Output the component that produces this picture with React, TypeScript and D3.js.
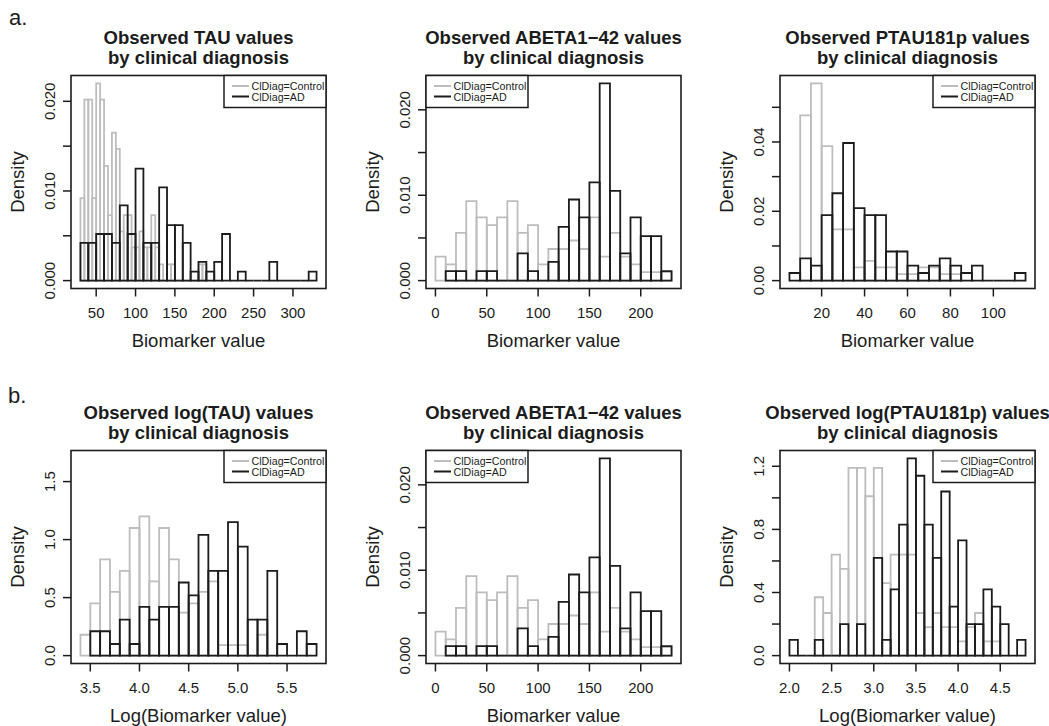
import React from "react";
import { scaleLinear } from "d3";

// densities (R hist, freq = FALSE), one value per bin
const tauControl = [0.0092, 0.0202, 0.0202, 0.0092, 0.022, 0.0202, 0.0128, 0.0073, 0.0165, 0.0147, 0.0055, 0.0073, 0.0073, 0.0037, 0.0037, 0.0055, 0.0037, 0.0037, 0.0073, 0.0037, 0.0018, 0, 0.0018, 0.0018, 0, 0, 0, 0, 0, 0, 0.0018, 0.0018];
const tauAD = [0.0042, 0.0042, 0.0052, 0.0052, 0.0042, 0.0084, 0.0052, 0.0125, 0.0042, 0.0042, 0.0104, 0.0062, 0.0062, 0.0042, 0.001, 0.0021, 0.001, 0.0021, 0.0052, 0, 0.001, 0, 0, 0, 0.0021, 0, 0, 0, 0, 0.001];

const abetaControl = [0.0028, 0.0019, 0.0056, 0.0093, 0.0074, 0.0065, 0.0074, 0.0093, 0.0056, 0.0065, 0.0019, 0.0037, 0.0037, 0.0047, 0.0037, 0.0074, 0.0028, 0.0056, 0.0028, 0.0019, 0.0010, 0.0010, 0.0010];
const abetaAD = [0.0011, 0.0011, 0, 0.0011, 0.0011, 0, 0, 0.0032, 0.0011, 0, 0.0022, 0.0063, 0.0095, 0.0074, 0.0115, 0.0231, 0.0105, 0.0032, 0.0074, 0.0052, 0.0052, 0.0011];

const ptauControl = [0.0477, 0.0569, 0.0388, 0.0148, 0.0148, 0.0038, 0.0057, 0.0038, 0.0038, 0.0019, 0.0019, 0.0038, 0.0038, 0.0019, 0.0019];
const ptauAD = [0.0022, 0.0064, 0.0043, 0.0189, 0.0252, 0.0397, 0.0209, 0.0189, 0.0189, 0.0084, 0.0084, 0.0043, 0.0022, 0.0043, 0.0064, 0.0043, 0.0022, 0.0043, 0, 0, 0, 0.0022];

const logTauControl = [0.18, 0.45, 0.83, 0.55, 0.73, 1.1, 1.2, 0.64, 1.1, 0.83, 0.37, 0.45, 0.55, 0.64, 0.09, 0.09, 0.09, 0, 0.18];
const logTauAD = [0.21, 0.21, 0.1, 0.31, 0.1, 0.42, 0.31, 0.42, 0.42, 0.63, 0.52, 1.04, 0.73, 0.73, 1.15, 0.94, 0.31, 0.31, 0.73, 0.1, 0, 0.21, 0.1];

const logPtauControl = [0.37, 0.27, 0.64, 0.55, 1.19, 1.19, 1.01, 1.19, 0.46, 0.64, 0.64, 0.64, 0.27, 0.18, 0.27, 0.18, 0.18, 0.09, 0.18, 0.27, 0.09, 0.09];
const logPtauAD = [0.1, 0, 0, 0.1, 0, 0, 0.2, 0, 0.2, 0, 0.62, 0.1, 0.42, 0.83, 1.25, 1.14, 0.83, 0.62, 1.04, 0.31, 0.73, 0.2, 0.2, 0.42, 0.31, 0.2, 0, 0.1];

// break starts and widths of each histogram
const tauBreaks = { control: [30, 5], ad: [30, 10] };
const abetaBreaks = { control: [0, 10], ad: [10, 10] };
const ptauBreaks = { control: [10, 5], ad: [5, 5] };
const logTauBreaks = { control: [3.4, 0.1], ad: [3.5, 0.1] };
const logPtauBreaks = { control: [2.3, 0.1], ad: [2.0, 0.1] };

// axis ticks and labels
const tauXTicks = [50, 100, 150, 200, 250, 300];
const abetaXTicks = [0, 50, 100, 150, 200];
const ptauXTicks = [20, 40, 60, 80, 100];
const logTauXTicks = [3.5, 4.0, 4.5, 5.0, 5.5];
const logPtauXTicks = [2.0, 2.5, 3.0, 3.5, 4.0, 4.5];

const tauYTicks = [0, 0.005, 0.01, 0.015, 0.02];
const tauYLabels = ["0.000", "", "0.010", "", "0.020"];
const ptauYTicks = [0, 0.01, 0.02, 0.03, 0.04, 0.05];
const ptauYLabels = ["0.00", "", "0.02", "", "0.04", ""];
const logTauYTicks = [0, 0.5, 1.0, 1.5];
const logTauYLabels = ["0.0", "0.5", "1.0", "1.5"];
const logPtauYTicks = [0, 0.2, 0.4, 0.6, 0.8, 1.0, 1.2];
const logPtauYLabels = ["0.0", "", "0.4", "", "0.8", "", "1.2"];

const legendLabels = ["ClDiag=Control", "ClDiag=AD"];

const width = 1049,
  height = 726,
  boxW = 255,
  boxH = 213,
  font = "'Liberation Sans', Arial, Helvetica, sans-serif",
  ink = "#1c1c1c",
  grey = "#bdbdbd";

const panels = [
  { left: 71, top: 75.5, title: ["Observed TAU values", "by clinical diagnosis"], xLabel: "Biomarker value", control: tauControl, ad: tauAD, breaks: tauBreaks, yLim: 0.022, xTicks: tauXTicks, xFmt: (v) => String(v), yTicks: tauYTicks, yLabels: tauYLabels, legend: "right" },
  { left: 426, top: 75.5, title: ["Observed ABETA1\u221242 values", "by clinical diagnosis"], xLabel: "Biomarker value", control: abetaControl, ad: abetaAD, breaks: abetaBreaks, yLim: 0.0231, xTicks: abetaXTicks, xFmt: (v) => String(v), yTicks: tauYTicks, yLabels: tauYLabels, legend: "left" },
  { left: 780, top: 75.5, title: ["Observed PTAU181p values", "by clinical diagnosis"], xLabel: "Biomarker value", control: ptauControl, ad: ptauAD, breaks: ptauBreaks, yLim: 0.0569, xTicks: ptauXTicks, xFmt: (v) => String(v), yTicks: ptauYTicks, yLabels: ptauYLabels, legend: "right" },
  { left: 71, top: 450.5, title: ["Observed log(TAU) values", "by clinical diagnosis"], xLabel: "Log(Biomarker value)", control: logTauControl, ad: logTauAD, breaks: logTauBreaks, yLim: 1.7, xTicks: logTauXTicks, xFmt: (v) => v.toFixed(1), yTicks: logTauYTicks, yLabels: logTauYLabels, legend: "right" },
  { left: 426, top: 450.5, title: ["Observed ABETA1\u221242 values", "by clinical diagnosis"], xLabel: "Biomarker value", control: abetaControl, ad: abetaAD, breaks: abetaBreaks, yLim: 0.0231, xTicks: abetaXTicks, xFmt: (v) => String(v), yTicks: tauYTicks, yLabels: tauYLabels, legend: "left" },
  { left: 780, top: 450.5, title: ["Observed log(PTAU181p) values", "by clinical diagnosis"], xLabel: "Log(Biomarker value)", control: logPtauControl, ad: logPtauAD, breaks: logPtauBreaks, yLim: 1.25, xTicks: logPtauXTicks, xFmt: (v) => v.toFixed(1), yTicks: logPtauYTicks, yLabels: logPtauYLabels, legend: "right" },
];

function Bars({ values, start, binWidth, x, y, color }) {
  return (
    <g fill="none" stroke={color} strokeWidth={1.8} strokeLinejoin="miter">
      {values.map((v, i) => {
        const x0 = x(start + i * binWidth),
          x1 = x(start + (i + 1) * binWidth);
        return <path key={i} d={`M${x0},${y(0)}V${y(v)}H${x1}V${y(0)}Z`} />;
      })}
    </g>
  );
}

function Panel({ p }) {
  const [cs, cw] = p.breaks.control,
    [as, aw] = p.breaks.ad,
    lo = Math.min(cs, as),
    hi = Math.max(cs + p.control.length * cw, as + p.ad.length * aw),
    pad = (hi - lo) * 0.04,
    right = p.left + boxW,
    bottom = p.top + boxH,
    x = scaleLinear().domain([lo - pad, hi + pad]).range([p.left, right]),
    y = scaleLinear()
      .domain([-0.04 * p.yLim, 1.04 * p.yLim])
      .range([bottom, p.top]),
    cx = p.left + boxW / 2,
    cy = p.top + boxH / 2,
    legW = 102,
    legH = 32,
    legX = p.legend === "right" ? right - legW : p.left;

  return (
    <g>
      <text x={cx} y={p.top - 32} textAnchor="middle" fontWeight="bold" fontSize={18.5}>
        {p.title[0]}
      </text>
      <text x={cx} y={p.top - 12} textAnchor="middle" fontWeight="bold" fontSize={18.5}>
        {p.title[1]}
      </text>

      <Bars values={p.control} start={cs} binWidth={cw} x={x} y={y} color={grey} />
      <Bars values={p.ad} start={as} binWidth={aw} x={x} y={y} color={ink} />

      <rect x={p.left} y={p.top} width={boxW} height={boxH} fill="none" stroke={ink} strokeWidth={1.6} />

      {p.xTicks.map((t) => (
        <g key={t}>
          <line x1={x(t)} x2={x(t)} y1={bottom} y2={bottom + 8} stroke={ink} strokeWidth={1.5} />
          <text x={x(t)} y={bottom + 29.5} textAnchor="middle" fontSize={15}>
            {p.xFmt(t)}
          </text>
        </g>
      ))}
      {p.yTicks.map((t, i) => (
        <g key={t}>
          <line x1={p.left - 8} x2={p.left} y1={y(t)} y2={y(t)} stroke={ink} strokeWidth={1.5} />
          {p.yLabels[i] && (
            <text transform={`translate(${p.left - 16.5},${y(t)}) rotate(-90)`} textAnchor="middle" fontSize={15}>
              {p.yLabels[i]}
            </text>
          )}
        </g>
      ))}

      <text x={cx} y={bottom + 58} textAnchor="middle" fontSize={18.5}>
        {p.xLabel}
      </text>
      <text transform={`translate(${p.left - 47.5},${cy}) rotate(-90)`} textAnchor="middle" fontSize={18.5}>
        Density
      </text>

      <g transform={`translate(${legX},${p.top})`}>
        <rect width={legW} height={legH} fill="white" stroke={ink} strokeWidth={1.5} />
        {legendLabels.map((l, i) => (
          <g key={l} transform={`translate(0,${10.5 + i * 10.5})`}>
            <line x1={8} x2={25} stroke={i === 0 ? grey : ink} strokeWidth={2} />
            <text x={27.5} y={4} fontSize={10.7}>
              {l}
            </text>
          </g>
        ))}
      </g>
    </g>
  );
}

export default function App() {
  return (
    <svg
      width={width}
      height={height}
      style={{ position: "absolute", left: 0, top: 0, background: "white" }}
      fontFamily={font}
      fill={ink}
    >
      <text x={9} y={25} fontSize={22}>
        a.
      </text>
      <text x={8} y={403} fontSize={22}>
        b.
      </text>
      {panels.map((p, i) => (
        <Panel key={i} p={p} />
      ))}
    </svg>
  );
}
